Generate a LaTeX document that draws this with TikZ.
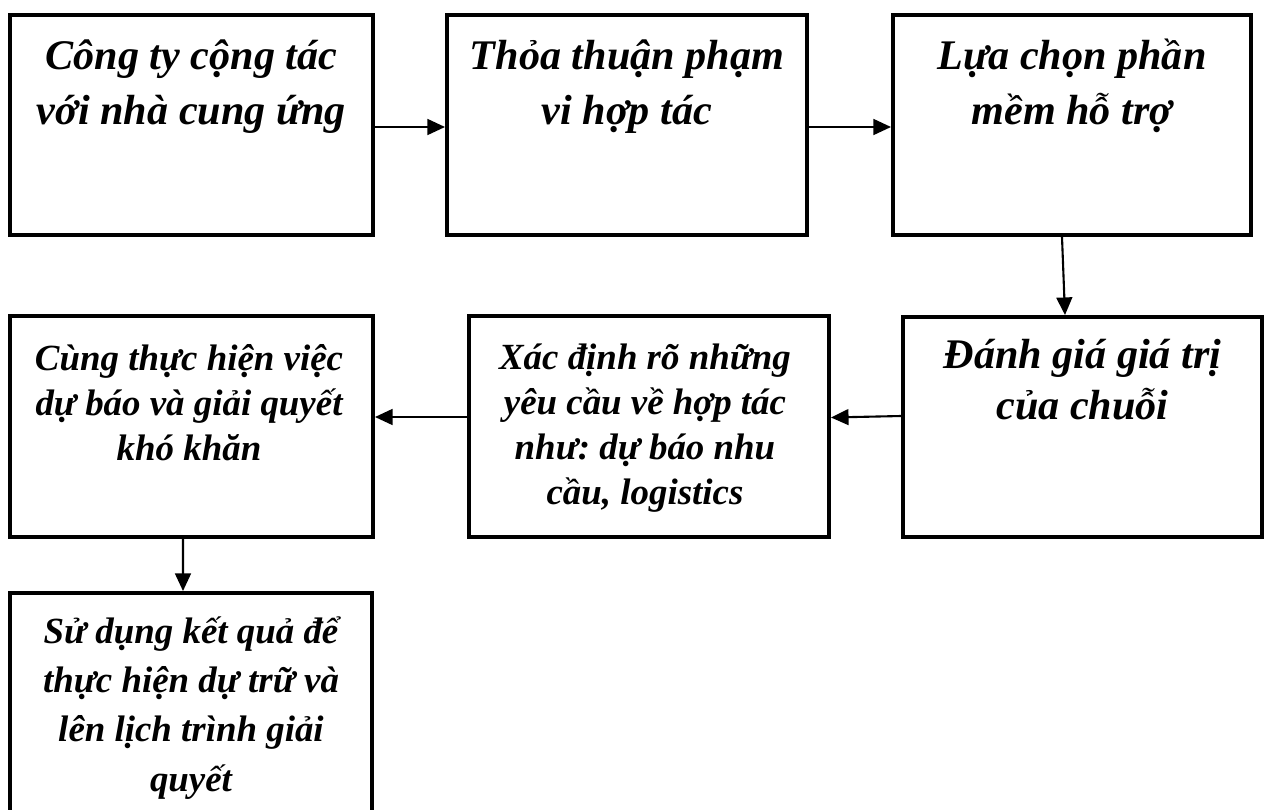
\documentclass[tikz,border=0pt]{standalone}
\usepackage{fontspec}
\setmainfont{Liberation Serif}
\usetikzlibrary{arrows.meta}

\begin{document}
\frenchspacing
\begin{tikzpicture}[x=0.02cm, y=-0.02cm,
    procbox/.style={draw, line width=2.3pt, minimum height=4.4cm, inner sep=0pt},
    bigtext/.style={align=center, inner sep=0pt, anchor=base,
      font=\fontsize{24}{31}\selectfont\bfseries\itshape},
    smalltext/.style={align=center, inner sep=0pt, anchor=base,
      font=\fontsize{21}{25.6}\selectfont\bfseries\itshape},
    link/.style={line width=1.2pt, -{Triangle[length=10pt,width=9pt]}}]
  \clip (0,0) rectangle (1269,809);

  % hang tren (base = dong cuoi)
  \node[procbox, minimum width=7.26cm] (b1) at (191.5,125) {};
  \node[bigtext] (t1) at (191.5,124) {Công ty cộng tác\\với nhà cung ứng};

  \node[procbox, minimum width=7.2cm] (b2) at (627,125) {};
  \node[bigtext] (t2) at (627,124) {Thỏa thuận phạm\\vi hợp tác};

  \node[procbox, minimum width=7.16cm] (b3) at (1072,125) {};
  \node[bigtext] (t3) at (1072,124) {Lựa chọn phần\\mềm hỗ trợ};

  % hang duoi
  \node[procbox, minimum width=7.18cm] (b4) at (1082.5,427) {};
  \node[bigtext, font=\fontsize{24}{28.5}\selectfont\bfseries\itshape] (t4) at (1082.5,419) {Đánh giá giá trị\\của chuỗi};

  \node[procbox, minimum width=7.2cm, minimum height=4.42cm] (b5) at (649,426.5) {};
  \node[smalltext] (t5) at (645,504) {Xác định rõ những\\yêu cầu về hợp tác\\như: dự báo nhu\\cầu, logistics};

  \node[procbox, minimum width=7.26cm, minimum height=4.42cm] (b6) at (191.5,426.5) {};
  \node[smalltext] (t6) at (189,460) {Cùng thực hiện việc\\dự báo và giải quyết\\khó khăn};

  \node[procbox, minimum width=7.24cm, minimum height=4.74cm] (b7) at (191,711.5) {};
  \node[smalltext, font=\fontsize{21}{28}\selectfont\bfseries\itshape] (t7) at (191,791)
    {Sử dụng kết quả để\\thực hiện dự trữ và\\lên lịch trình giải\\quyết};

  % mui ten
  \draw[link] ([yshift=-0.04cm]b1.east) -- ([yshift=-0.04cm]b2.west);
  \draw[link] ([yshift=-0.04cm]b2.east) -- ([yshift=-0.04cm]b3.west);
  \draw[link] ([xshift=-0.2cm]b3.south) -- ([xshift=-0.35cm]b4.north);
  \draw[link] ([yshift=0.22cm]b4.west) -- ([yshift=0.18cm]b5.east);
  \draw[link] ([yshift=0.19cm]b5.west) -- ([yshift=0.19cm]b6.east);
  \draw[link] ([xshift=-0.17cm]b6.south) -- ([xshift=-0.16cm]b7.north);
\end{tikzpicture}
\end{document}
